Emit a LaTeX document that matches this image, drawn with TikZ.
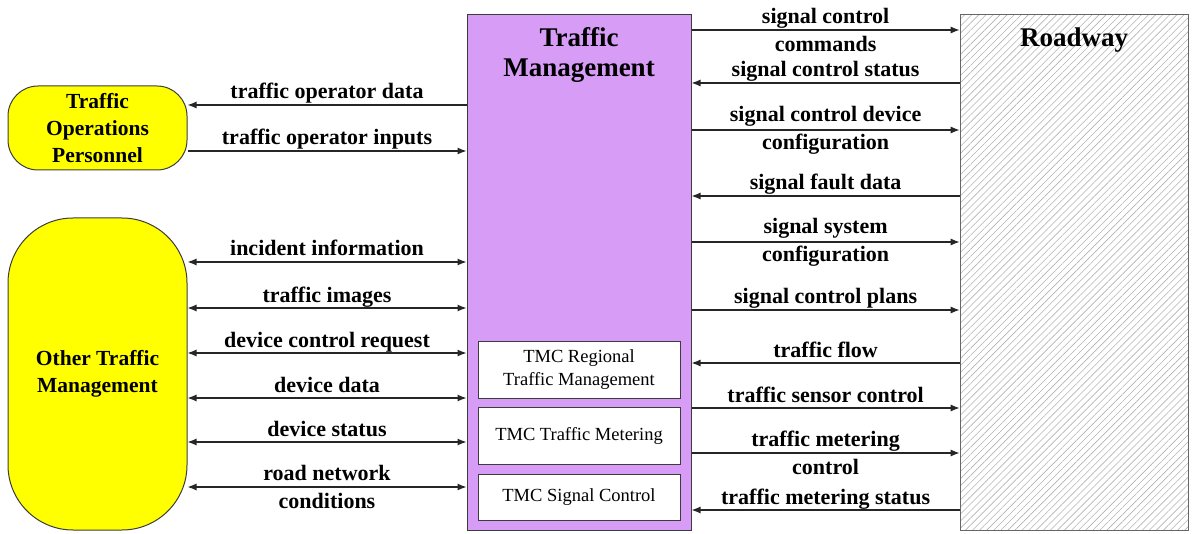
\documentclass[tikz,border=0pt]{standalone}
\usepackage{fontspec}
\setmainfont{Liberation Serif}
\usetikzlibrary{arrows.meta,patterns.meta}
\definecolor{tmpurple}{RGB}{214,156,246}
\definecolor{edgegray}{RGB}{60,60,60}
\definecolor{termyellow}{RGB}{255,255,0}
\begin{document}
\begin{tikzpicture}[x=1pt,y=-1pt,
  term/.style={draw=edgegray,line width=1pt,fill=termyellow,align=center,inner sep=0pt,
    font=\bfseries\fontsize{21.5}{27}\selectfont},
  subbox/.style={draw=edgegray,line width=1pt,fill=white,minimum width=202pt,align=center,
    inner sep=0pt,font=\fontsize{18.5}{23}\selectfont},
  title/.style={align=center,font=\bfseries\fontsize{27}{30}\selectfont},
  lbl/.style={align=center,inner sep=1pt,font=\bfseries\fontsize{22}{28}\selectfont},
  lbl1/.style={lbl,anchor=base,yshift=6pt},
  flow/.style={draw=black!85,line width=1.2pt,-{Latex[length=9pt,width=7pt]}},
  biflow/.style={draw=black!85,line width=1.2pt,{Latex[length=9pt,width=7pt]}-{Latex[length=9pt,width=7pt]}}
]
\useasboundingbox (0,0) rectangle (1193,534);

% terminators
\node[term,minimum width=179pt,minimum height=84pt,rounded corners=30pt] (top) at (97.5,128) {Traffic\\Operations\\Personnel};
\node[term,minimum width=179pt,minimum height=312pt,rounded corners=65pt] (otm) at (97.5,374) {Other Traffic\\Management};

% traffic management
\node[draw=edgegray,line width=1pt,fill=tmpurple,minimum width=224pt,minimum height=515pt,inner sep=0pt] (tm) at (579,272.5) {};
\node[title] (tmt) at (579,55) {Traffic\\Management};
\node[subbox,minimum height=57pt] (reg) at (579,369.5) {TMC Regional\\Traffic Management};
\node[subbox,minimum height=57pt] (met) at (579,435.5) {TMC Traffic Metering};
\node[subbox,minimum height=46pt] (sig) at (579,497) {TMC Signal Control};

% roadway
\node[draw=black!60,line width=1pt,minimum width=228pt,minimum height=515pt,inner sep=0pt,
  pattern={Lines[angle=45,distance=5pt,line width=0.6pt]},pattern color=black!30] (rw) at (1074,272.5) {};
\node[title] (rwt) at (1074,40) {Roadway};

% left flows
\draw[flow] (tm.west |- 0,105) -- node[lbl1]{traffic operator data} (top.east |- 0,105);
\draw[flow] (top.east |- 0,151) -- node[lbl1]{traffic operator inputs} (tm.west |- 0,151);
\draw[biflow] (otm.east |- 0,262) -- node[lbl1]{incident information} (tm.west |- 0,262);
\draw[biflow] (otm.east |- 0,308) -- node[lbl1]{traffic images} (tm.west |- 0,308);
\draw[biflow] (otm.east |- 0,353) -- node[lbl1]{device control request} (tm.west |- 0,353);
\draw[biflow] (otm.east |- 0,398) -- node[lbl1]{device data} (tm.west |- 0,398);
\draw[biflow] (otm.east |- 0,442) -- node[lbl1]{device status} (tm.west |- 0,442);
\draw[biflow] (otm.east |- 0,487) -- node[lbl]{road network\\conditions} (tm.west |- 0,487);

% right flows
\draw[flow] (tm.east |- 0,30) -- node[lbl]{signal control\\commands} (rw.west |- 0,30);
\draw[flow] (rw.west |- 0,83) -- node[lbl1]{signal control status} (tm.east |- 0,83);
\draw[flow] (tm.east |- 0,130) -- node[lbl]{signal control device\\configuration} (rw.west |- 0,130);
\draw[flow] (rw.west |- 0,196) -- node[lbl1]{signal fault data} (tm.east |- 0,196);
\draw[flow] (tm.east |- 0,242) -- node[lbl]{signal system\\configuration} (rw.west |- 0,242);
\draw[flow] (tm.east |- 0,310) -- node[lbl1]{signal control plans} (rw.west |- 0,310);
\draw[flow] (rw.west |- 0,363) -- node[lbl1]{traffic flow} (tm.east |- 0,363);
\draw[flow] (tm.east |- 0,408) -- node[lbl1]{traffic sensor control} (rw.west |- 0,408);
\draw[flow] (tm.east |- 0,453) -- node[lbl]{traffic metering\\control} (rw.west |- 0,453);
\draw[flow] (rw.west |- 0,510) -- node[lbl1]{traffic metering status} (tm.east |- 0,510);
\end{tikzpicture}
\end{document}
